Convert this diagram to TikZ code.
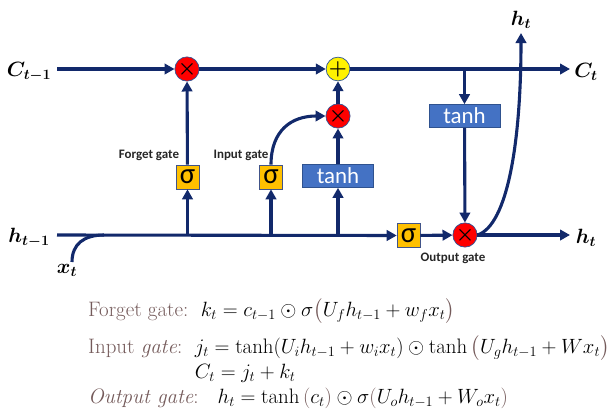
\documentclass[tikz,border=0pt]{standalone}
\usepackage{fontspec}
\setsansfont{Carlito}
\usepackage{amsmath,bm}
\usetikzlibrary{arrows.meta}
\definecolor{navy}{HTML}{12296B}
\definecolor{opb}{HTML}{2F5597}
\definecolor{sigc}{HTML}{FFC000}
\definecolor{tanhc}{HTML}{4472C4}
\definecolor{tanhb}{HTML}{2F528F}
\definecolor{eqtext}{HTML}{745A5A}
\begin{document}
\begin{tikzpicture}[x=1bp,y=-1bp,
  conn/.style={draw=navy,line width=3.1bp},
  arr/.style={conn,-{Triangle[length=10bp,width=10.5bp]}},
  op/.style={circle,draw=opb,line width=0.7bp,minimum size=23bp,inner sep=0pt,font=\fontsize{20.5}{20.5}\selectfont},
  sbox/.style={rectangle,draw=navy!80,line width=0.6bp,fill=sigc,minimum width=23bp,minimum height=24bp,inner sep=0pt,font=\sffamily\fontsize{29}{29}\selectfont},
  tbox/.style={rectangle,draw=tanhb,line width=0.6bp,fill=tanhc,minimum width=71bp,minimum height=23bp,inner sep=0pt,text=white,font=\sffamily\fontsize{23}{23}\selectfont},
  glab/.style={font=\sffamily\bfseries\fontsize{13}{13}\selectfont,text=black!85,inner sep=0pt},
  vlab/.style={font=\fontsize{20}{20}\selectfont,inner sep=0pt},
  eq/.style={anchor=base west,font=\fontsize{21}{21}\selectfont,inner sep=0pt}]
\useasboundingbox (0,0) rectangle (616,411);

% operators
\node[op,fill=red] (m1) at (187,69) {$\bm\times$};
\node[op,fill=yellow] (p) at (338,69) {$\bm{+}$};
\node[op,fill=red] (m2) at (338,116) {$\bm\times$};
\node[op,fill=red] (m3) at (465,235) {$\bm\times$};

% boxes
\node[sbox] (sf) at (187.5,177) {σ};
\node[sbox] (si) at (271,177) {σ};
\node[tbox] (th1) at (338,176) {tanh};
\node[tbox] (th2) at (464.5,116) {tanh};
\node[sbox] (so) at (408.5,235.5) {σ};

% labels
\node[vlab] (lC) at (29,72) {$\bm{C_{t-1}}$};
\node[vlab] (lh) at (29,238) {$\bm{h_{t-1}}$};
\node[vlab] (lx) at (67,270) {$\bm{x_{t}}$};
\node[vlab] (lCt) at (586,72) {$\bm{C_{t}}$};
\node[vlab] (lht) at (586,238) {$\bm{h_{t}}$};
\node[vlab] (lhtop) at (521,20) {$\bm{h_{t}}$};

\node[glab] (gf) at (149,155) {Forget gate};
\node[glab] (gi) at (241,155) {Input gate};
\node[glab] (go) at (453,258) {Output gate};

% coordinates
\coordinate (cin) at (57,69);
\coordinate (hin) at (57,235);
\coordinate (cout) at (570,69);
\coordinate (hout) at (570,235);
\coordinate (htop) at (521,33);
\coordinate (xs) at (72,262);
\coordinate (xj) at (104,235);

% cell state line
\draw[arr] (cin) -- (m1);
\draw[arr] (m1) -- (p);
\draw[arr] (p) -- (cout);
\draw[arr] (th2 |- cin) -- (th2);
\draw[arr] (th2) -- (m3);

% hidden line
\draw[arr] (hin) -- (so);
\draw[arr] (so) -- (m3);
\draw[arr] (m3) -- (hout);
\draw[conn] (xs) .. controls (72,244) and (84,235) .. (xj);

% gates
\draw[arr] (sf |- hin) -- (sf);
\draw[arr] (sf) -- (m1);
\draw[arr] (si |- hin) -- (si);
\draw[arr] (si.north) .. controls (271,130) and (292,116) .. (m2.west);
\draw[arr] (th1 |- hin) -- (th1);
\draw[arr] (th1) -- (m2);
\draw[arr] (m2) -- (p);
\draw[arr] (m3.east) .. controls (508,225) and (521,140) .. (htop);

% equations
\node[eq] (e1) at (88,316) {\textcolor{eqtext}{Forget gate:}\ \ $k_t = c_{t-1}\odot\sigma\textcolor{eqtext}{\big(}U_f h_{t-1} + w_f x_t\textcolor{eqtext}{\big)}$};
\node[eq] (e2) at (88,353) {\textcolor{eqtext}{Input \textit{gate}:}\ \ $j_t = \tanh(U_i h_{t-1} + w_i x_t)\odot\tanh\textcolor{eqtext}{\big(}U_g h_{t-1} + W x_t\textcolor{eqtext}{\big)}$};
\node[eq] (e3) at (88,378) {\phantom{Input \textit{gate}:}\ \ $C_t = j_t + k_t$};
\node[eq] (e4) at (88,403) {\textcolor{eqtext}{\textit{Output gate}:}\ \ \ $h_t = \tanh\textcolor{eqtext}{(}c_t\textcolor{eqtext}{)}\odot\sigma\textcolor{eqtext}{(}U_o h_{t-1} + W_o x_t\textcolor{eqtext}{)}$};
\end{tikzpicture}
\end{document}
